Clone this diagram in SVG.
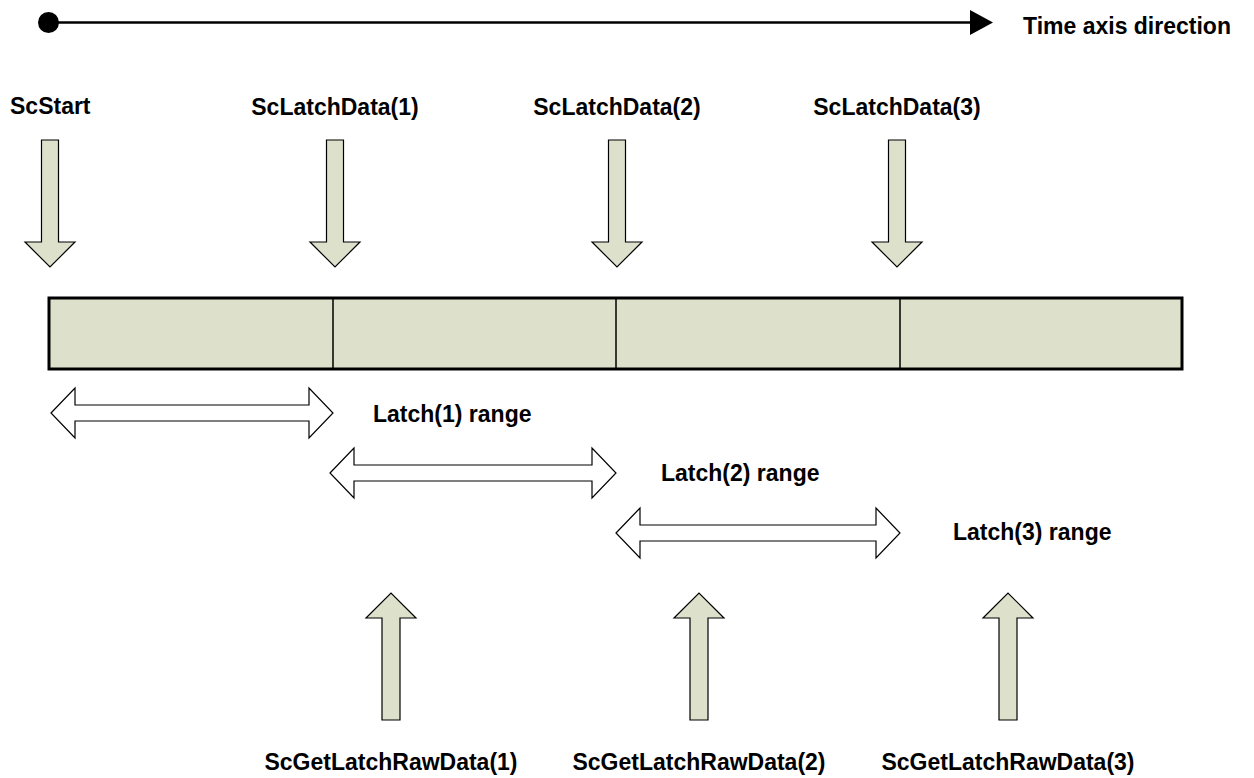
<svg xmlns="http://www.w3.org/2000/svg" width="1254" height="778" viewBox="0 0 1254 778">
<style>
text{font-family:"Liberation Sans",Arial,sans-serif;font-weight:bold;font-size:23px;fill:#000}
.blk{fill:#dde0cb;stroke:#000;stroke-width:1.2}
.dbl{fill:#fff;stroke:#000;stroke-width:1.2}
.cell{fill:#dde0cb;stroke:none}
</style>
<defs>
<path id="down" d="M-8.5,0 H8.5 V102 H25 L0,127 L-25,102 H-8.5 Z"/>
<path id="up" d="M-9,127 H9 V25 H25 L0,0 L-25,25 H-9 Z"/>
</defs>
<g id="timeline">
<line x1="48" y1="22.5" x2="972" y2="22.5" stroke="#000" stroke-width="2.7"/>
<circle cx="48.5" cy="22.5" r="10.5" fill="#000"/>
<polygon points="970,10 993,22.5 970,35" fill="#000"/>
<text x="1023" y="34">Time axis direction</text>
</g>
<g id="bar">
<rect x="49" y="298" width="1133" height="71" class="cell"/>
<g stroke="#000" stroke-width="1.5">
<line x1="333" y1="298" x2="333" y2="369"/>
<line x1="616" y1="298" x2="616" y2="369"/>
<line x1="900" y1="298" x2="900" y2="369"/>
</g>
<rect x="49" y="298" width="1133" height="71" fill="none" stroke="#000" stroke-width="3"/>
</g>
<g id="scstart">
<text x="10" y="114">ScStart</text>
<use href="#down" class="blk" x="50" y="140"/>
</g>
<g id="sclatch1">
<text x="335" y="115" text-anchor="middle">ScLatchData(1)</text>
<use href="#down" class="blk" x="335" y="140"/>
</g>
<g id="sclatch2">
<text x="617" y="115" text-anchor="middle">ScLatchData(2)</text>
<use href="#down" class="blk" x="617" y="140"/>
</g>
<g id="sclatch3">
<text x="897" y="115" text-anchor="middle">ScLatchData(3)</text>
<use href="#down" class="blk" x="897" y="140"/>
</g>
<g id="latch1">
<polygon class="dbl" points="51,413 75,388 75,405 309,405 309,388 333,413 309,438 309,421 75,421 75,438"/>
<text x="373" y="422">Latch(1) range</text>
</g>
<g id="latch2">
<polygon class="dbl" points="330,473 354,448 354,465 592,465 592,448 616,473 592,498 592,481 354,481 354,498"/>
<text x="661" y="481">Latch(2) range</text>
</g>
<g id="latch3">
<polygon class="dbl" points="616,533 640,508 640,525 876,525 876,508 900,533 876,558 876,541 640,541 640,558"/>
<text x="953" y="540">Latch(3) range</text>
</g>
<g id="getraw1">
<use href="#up" class="blk" x="391" y="593"/>
<text x="391" y="770" text-anchor="middle">ScGetLatchRawData(1)</text>
</g>
<g id="getraw2">
<use href="#up" class="blk" x="699" y="593"/>
<text x="699" y="770" text-anchor="middle">ScGetLatchRawData(2)</text>
</g>
<g id="getraw3">
<use href="#up" class="blk" x="1008" y="593"/>
<text x="1008" y="770" text-anchor="middle">ScGetLatchRawData(3)</text>
</g>
</svg>
